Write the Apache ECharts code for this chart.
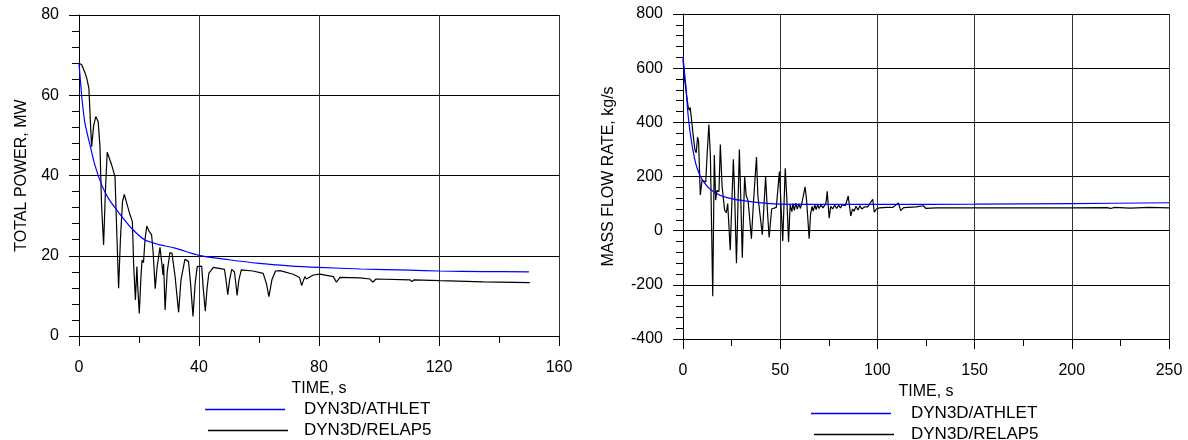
<!DOCTYPE html>
<html>
<head>
<meta charset="utf-8">
<script src="https://cdn.jsdelivr.net/npm/echarts@6/dist/echarts.min.js"></script>
<style>
html,body{margin:0;padding:0;background:#fff;}
#chart{width:1188px;height:440px;}
</style>
</head>
<body>
<div id="chart"></div>
<script>
// ---- Data (time s, value) ----
const seriesNames = ['DYN3D/ATHLET', 'DYN3D/RELAP5'];

// Left panel: total power, MW
const powerAthlet = [[0,68],[0.6,62.5],[1,59],[2,53],[3.7,47.5],[5.3,42.6],[7.6,37.6],[9.8,34.3],[13,31],[17.6,26.8],[22,23.9],[25.3,23.1],[27,22.7],[32,21.9],[40,20.1],[50,19],[60,18.1],[70,17.5],[80,17.1],[94,16.7],[110,16.4],[120,16.2],[135,16.05],[150,16.0]];
const powerRelap = [[0,68],[0.9,67.6],[2,65.6],[2.6,64.2],[3.3,61.7],[3.7,55],[4.2,47.2],[4.9,52.5],[5.6,54.7],[6.4,53.4],[7,47],[7.5,33],[8.2,22.7],[8.8,36],[9.4,45.8],[10.9,42.6],[12,39.7],[12.5,28],[13.2,11.9],[13.8,24],[14.5,33.5],[15.1,35.3],[15.7,35.1],[17,30.2],[17.8,28.5],[18.2,18],[18.8,9],[19.3,17.3],[19.6,12],[20.1,5.6],[20.6,14],[21,18.9],[21.5,18.3],[22,24],[22.6,27.4],[23.3,26.2],[24.2,25.2],[24.7,21],[25.4,11.8],[26,17],[27,22.1],[27.6,18.1],[28,15.2],[28.2,18],[28.7,6.5],[29.4,16],[30.3,20.8],[31,20.6],[32,15],[33.2,5.9],[34,14],[35.3,19.1],[36.5,18.6],[37.2,13],[38,4.9],[38.7,13],[39.4,17.3],[40.9,17.4],[41.4,12],[42.1,6.2],[42.7,12],[43.3,15.7],[44.8,17.1],[48.5,16.6],[49,14],[49.6,10.3],[50.2,14],[50.9,16.6],[51.8,16],[52.3,13],[52.7,10.1],[53.3,14],[54.1,16.5],[58,16.2],[61.4,15.6],[62.5,13],[63.3,9.8],[64.3,14],[65.5,16.2],[67,16.3],[71.4,15.4],[73.5,14.6],[74.2,12.6],[75.3,14.8],[75.8,14.2],[76.3,14.6],[78.1,15.2],[80.3,15.4],[84.8,14.8],[85.8,13.4],[87,14.6],[93.7,14.5],[97,14.2],[97.9,13.4],[99,14.2],[110.3,14.0],[111,13.6],[111.7,14],[120.3,13.8],[134.8,13.5],[150.3,13.3]];

// Right panel: mass flow rate, kg/s
const flowAthlet = [[0,642],[0.7,590],[1.5,532],[2.7,421],[4.5,323],[7,236],[10.5,181],[15.7,144],[22.6,122],[34.6,107],[50,98],[77,97],[100,97],[150,98],[200,100],[250,103]];
const flowRelap = [[0,632],[0.8,560],[1.5,520],[2.2,480],[2.7,455],[3.3,445],[3.7,455],[4.4,410],[5.3,347],[6.2,296],[6.8,288],[7.5,345],[8,330],[8.9,132],[9.8,187],[10.5,182],[11.7,180],[12.5,292],[13.3,392],[14.1,275],[15.3,-242],[16.1,279],[16.8,113],[17.4,148],[18.5,145],[19.2,318],[20.1,165],[20.7,158],[21.4,76],[22.3,66],[23,100],[24.3,-72],[25.9,264],[26.5,150],[27.5,-120],[29,300],[29.6,150],[30.5,-100],[31.7,200],[32.5,130],[33.5,110],[35.2,-30],[36.2,100],[37.8,272],[38.5,130],[40.8,-15],[42.5,200],[43.2,100],[44.3,-25],[45.6,80],[48,86],[49.6,218],[51.3,-38],[52.6,230],[53.4,120],[54.3,-42],[55.1,95],[56,70],[56.5,100],[57.3,75],[58,102],[58.8,80],[59.6,100],[60.4,82],[61.2,104],[62.8,162],[63.6,110],[64.9,-30],[65.6,60],[66.4,90],[67,72],[67.8,95],[68.5,78],[69.3,96],[70,82],[71,95],[72,84],[73.5,100],[74.2,145],[75.2,46],[76,90],[77,80],[78,95],[79,82],[80,94],[81,84],[82,96],[83.5,92],[85,128],[86.3,54],[87.2,80],[88,72],[89,90],[90,76],[91,92],[92,80],[93.5,88],[95,88],[97.6,116],[98.4,68],[99.5,80],[101,84],[105,86],[108,86],[110.8,102],[112,74],[113.5,85],[120,88],[123.6,92],[125,82],[130,84],[150,84],[200,84],[218,85],[220,82],[222,86],[230,83],[240,86],[250,84]];

// Axis settings (values)
const powerAxis = {xMin:0, xMax:160, xStep:40, yMin:0, yMax:80, yStep:20};
const flowAxis = {xMin:0, xMax:250, xStep:50, yMin:-400, yMax:800, yStep:200};
const axisTitles = {time:'TIME, s', power:'TOTAL POWER, MW', flow:'MASS FLOW RATE, kg/s'};

// ---- Chart ----
const FONT = "'Liberation Sans', Arial, sans-serif";
const BLUE = '#0000ff';
const BLACK = '#000000';
const chart = echarts.init(document.getElementById('chart'), null, {renderer:'canvas'});

function xAx(idx, a, name){
  return {
    type:'value', gridIndex:idx, min:a.xMin, max:a.xMax, interval:a.xStep,
    name:name, nameLocation:'middle', nameGap:40,
    nameTextStyle:{fontSize:16, color:'#000', fontFamily:FONT},
    axisLine:{onZero:false, lineStyle:{color:'#000', width:1}},
    axisTick:{show:true, length:10, lineStyle:{color:'#000'}},
    minorTick:{show:true, splitNumber:2, length:7, lineStyle:{color:'#000'}},
    axisLabel:{fontSize:16, color:'#000', fontFamily:FONT, margin:24},
    splitLine:{show:true, lineStyle:{color:'#333', width:1}}
  };
}
function yAx(idx, a, name, gap){
  return {
    type:'value', gridIndex:idx, min:a.yMin, max:a.yMax, interval:a.yStep,
    name:name, nameLocation:'middle', nameGap:gap, nameRotate:90,
    nameTextStyle:{fontSize:16, color:'#000', fontFamily:FONT},
    axisLine:{show:true, lineStyle:{color:'#000', width:1}},
    axisTick:{show:true, length:10, lineStyle:{color:'#000'}},
    minorTick:{show:true, splitNumber:5, length:7, lineStyle:{color:'#000'}},
    axisLabel:{fontSize:16, color:'#000', fontFamily:FONT, margin:20},
    splitLine:{show:true, lineStyle:{color:'#000', width:1}}
  };
}
function legendAt(name, left, centerY, pad){
  return {
    orient:'vertical', left:left, top:centerY - 8, padding:0, itemWidth:80, itemHeight:14, itemGap:5,
    icon:'path://M0,0H80V1.3H0Z',
    data:[name], selectedMode:false,
    textStyle:{fontSize:17, color:'#000', fontFamily:FONT, lineHeight:16, padding:[0,0,0,pad]}
  };
}

chart.setOption({
  animation:false,
  backgroundColor:'#fff',
  grid:[
    {left:79, top:15, width:480, height:321},
    {left:683, top:14, width:486, height:325}
  ],
  xAxis:[xAx(0, powerAxis, axisTitles.time), xAx(1, flowAxis, axisTitles.time)],
  yAxis:[yAx(0, powerAxis, axisTitles.power, 49), yAx(1, flowAxis, axisTitles.flow, 66)],
  legend:[
    legendAt(seriesNames[0], 205, 409, 14),
    legendAt(seriesNames[1], 208, 430, 11),
    legendAt(seriesNames[0], 811, 413, 15),
    legendAt(seriesNames[1], 814, 434, 12)
  ],
  series:[
    {name:seriesNames[0], type:'line', xAxisIndex:0, yAxisIndex:0, data:powerAthlet, symbol:'none', smooth:0.3, lineStyle:{color:BLUE, width:1.2}, itemStyle:{color:BLUE}, z:3},
    {name:seriesNames[1], type:'line', xAxisIndex:0, yAxisIndex:0, data:powerRelap, symbol:'none', lineStyle:{color:BLACK, width:1.2}, itemStyle:{color:BLACK}, z:2},
    {name:seriesNames[0], type:'line', xAxisIndex:1, yAxisIndex:1, data:flowAthlet, symbol:'none', smooth:0.3, lineStyle:{color:BLUE, width:1.2}, itemStyle:{color:BLUE}, z:3},
    {name:seriesNames[1], type:'line', xAxisIndex:1, yAxisIndex:1, data:flowRelap, symbol:'none', lineStyle:{color:BLACK, width:1.2}, itemStyle:{color:BLACK}, z:2}
  ]
});
</script>
</body>
</html>
